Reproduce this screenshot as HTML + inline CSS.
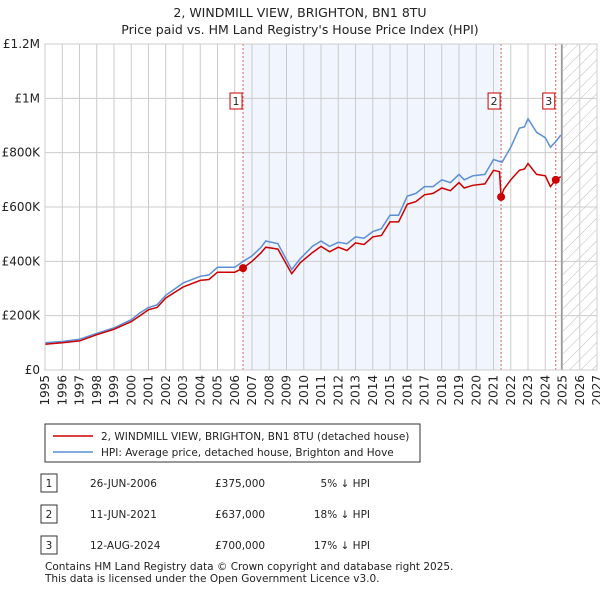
<!DOCTYPE html>
<html><head><meta charset="utf-8"><style>
body{margin:0;background:#fff;font-family:"DejaVu Sans",sans-serif;}
svg text{font-family:"DejaVu Sans","Liberation Sans",sans-serif;fill:#222;}
</style></head><body>
<svg width="600" height="590" xmlns="http://www.w3.org/2000/svg">
<text x="300" y="17" text-anchor="middle" font-size="12.5">2, WINDMILL VIEW, BRIGHTON, BN1 8TU</text>
<text x="300" y="34" text-anchor="middle" font-size="12.5">Price paid vs. HM Land Registry's House Price Index (HPI)</text>
<g id="plot"></g>
<rect x="45" y="424" width="375" height="38" fill="#fff" stroke="#333"/>
<line x1="53" y1="436" x2="93" y2="436" stroke="#cc0000" stroke-width="1.5"/>
<text x="101" y="440" font-size="10.5">2, WINDMILL VIEW, BRIGHTON, BN1 8TU (detached house)</text>
<line x1="53" y1="452" x2="93" y2="452" stroke="#5b8fd6" stroke-width="1.5"/>
<text x="101" y="456" font-size="10.5">HPI: Average price, detached house, Brighton and Hove</text>
<g id="table"></g>
<text x="45" y="570" font-size="10.5">Contains HM Land Registry data © Crown copyright and database right 2025.</text>
<text x="45" y="582" font-size="10.5">This data is licensed under the Open Government Licence v3.0.</text>
</svg>
<script>
const hpiDates=[1995,1996,1997,1998,1999,2000,2000.5,2001,2001.5,2002,2003,2004,2004.5,2005,2006,2006.5,2007,2007.5,2007.8,2008.5,2009.3,2009.8,2010.5,2011,2011.5,2012,2012.5,2013,2013.5,2014,2014.5,2015,2015.5,2016,2016.5,2017,2017.5,2018,2018.5,2019,2019.3,2019.8,2020.5,2021,2021.5,2022,2022.5,2022.8,2023,2023.5,2024,2024.3,2024.6,2024.9];
const hpiValues=[100,105,113,135,155,185,210,230,240,275,320,345,350,378,378,400,420,450,475,465,370,410,455,475,455,470,465,490,485,510,520,570,570,640,650,675,675,700,690,720,700,715,720,775,765,820,890,895,925,875,855,820,840,865];
const priceDates=[1995,1996,1997,1998,1999,2000,2000.5,2001,2001.5,2002,2003,2004,2004.5,2005,2006,2006.48,2007,2007.5,2007.8,2008.5,2009.3,2009.8,2010.5,2011,2011.5,2012,2012.5,2013,2013.5,2014,2014.5,2015,2015.5,2016,2016.5,2017,2017.5,2018,2018.5,2019,2019.3,2019.8,2020.5,2021,2021.35,2021.44,2021.6,2022,2022.5,2022.8,2023,2023.5,2024,2024.3,2024.61,2024.9];
const priceValues=[95,100,107,130,150,178,200,222,230,265,305,330,333,360,360,375,400,430,452,445,355,395,432,455,435,452,440,468,462,490,495,545,545,610,620,645,650,670,660,690,670,680,685,735,730,637,665,700,735,740,760,720,715,675,700,712];
const saleNums=["1","2","3"];
const saleDates=[2006.48,2021.44,2024.61];
const saleValues=[375,637,700];
const saleDateLabels=["26-JUN-2006","11-JUN-2021","12-AUG-2024"];
const salePriceLabels=["£375,000","£637,000","£700,000"];
const saleHpiLabels=["5% ↓ HPI","18% ↓ HPI","17% ↓ HPI"];
const yTicks=[0,200,400,600,800,1000,1200];
const yTickLabels=["£0","£200K","£400K","£600K","£800K","£1M","£1.2M"];
const NS="http://www.w3.org/2000/svg";
const X0=45,X1=597,Y0=370,Y1=44,T0=1995,T1=2027,VMAX=1200;
const xs=t=>X0+(t-T0)/(T1-T0)*(X1-X0);
const ys=v=>Y0-v/VMAX*(Y0-Y1);
const plot=document.getElementById('plot');
function mk(tag,attrs,parent){const e=document.createElementNS(NS,tag);for(const k in attrs)e.setAttribute(k,attrs[k]);(parent||plot).appendChild(e);return e;}
let sh=mk('rect',{x:xs(saleDates[0]),y:Y1,width:xs(saleDates[1])-xs(saleDates[0]),height:Y0-Y1,fill:'#eef3fc',opacity:0.8});


const defs=mk('defs',{});
const pat=mk('pattern',{id:'hatch',width:8,height:8,patternUnits:'userSpaceOnUse',patternTransform:'rotate(45)'},defs);
mk('line',{x1:0,y1:0,x2:0,y2:8,stroke:'#bbb','stroke-width':1},pat);
let ht=mk('rect',{x:xs(2024.95),y:Y1,width:X1-xs(2024.95),height:Y0-Y1,fill:'url(#hatch)'});


for(let y=T0;y<=T1;y++){
 const g=mk('line',{x1:xs(y),y1:Y1,x2:xs(y),y2:Y0,stroke:'#ccc','stroke-width':1});
 
 
 const t=mk('text',{x:0,y:0,'font-size':12,'text-anchor':'end',transform:`translate(${xs(y)+4},${Y0+5}) rotate(-90)`});
 t.textContent=y;
 
 
}
yTicks.forEach((v,i)=>{
 const g=mk('line',{x1:X0,y1:ys(v),x2:X1,y2:ys(v),stroke:'#ccc','stroke-width':1});
 
 
 const t=mk('text',{x:X0-5,y:ys(v)+4,'font-size':12,'text-anchor':'end'});
 t.textContent=yTickLabels[i];
 
 
});
let nl=mk('line',{x1:xs(2024.95),y1:Y1,x2:xs(2024.95),y2:Y0,stroke:'#999','stroke-width':1.5});


saleDates.forEach((d,i)=>{
 const l=mk('line',{x1:xs(d),y1:Y1,x2:xs(d),y2:Y0,stroke:'#e06060','stroke-width':1,'stroke-dasharray':'2,2'});
 
 
 const b=mk('rect',{x:xs(d)-13,y:93,width:12,height:16,fill:'#fff',stroke:'#cc0000'});
 
 
 const t=mk('text',{x:xs(d)-7,y:105,'font-size':11,'text-anchor':'middle'});
 t.textContent=saleNums[i];
 
 
});
function path(ds,vs,col,name){
 const d=ds.map((t,i)=>(i?'L':'M')+xs(t).toFixed(1)+','+ys(vs[i]).toFixed(1)).join('');
 const p=mk('path',{d:d,fill:'none',stroke:col,'stroke-width':1.5});
 
 
}
path(hpiDates,hpiValues,'#5b8fd6','hpi-line');
path(priceDates,priceValues,'#cc0000','price-line');
saleDates.forEach((d,i)=>{
 const c=mk('circle',{cx:xs(d),cy:ys(saleValues[i]),r:4,fill:'#cc0000'});
 
 
});
mk('rect',{x:X0,y:Y1,width:X1-X0,height:Y0-Y1,fill:'none',stroke:'#ccc'});
const tb=document.getElementById('table');
saleNums.forEach((n,i)=>{
 const y=483+i*31;
 const b=mk('rect',{x:41,y:y-9,width:16,height:18,fill:'#fff',stroke:'#333'},tb);
 
 
 const cells=[[49,n,'middle'],[90,saleDateLabels[i],'start'],[215,salePriceLabels[i],'start'],[370,saleHpiLabels[i],'end']];
 cells.forEach(c=>{
  const t=mk('text',{x:c[0],y:y+4,'font-size':10.5,'text-anchor':c[2]},tb);
  t.textContent=c[1];
  
  
 });
});
</script>
</body></html>
